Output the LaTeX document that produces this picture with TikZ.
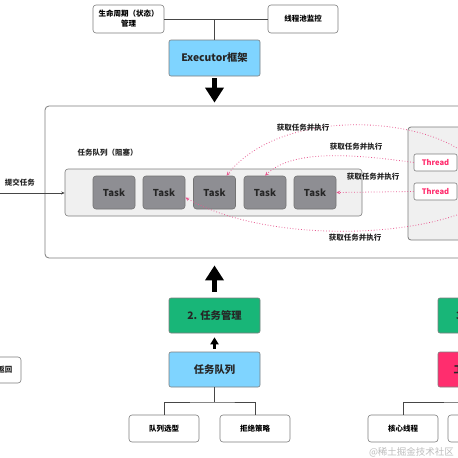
\documentclass[tikz,border=0pt]{standalone}
\usepackage{fontspec}
\setmainfont{Noto Sans CJK SC}
\usetikzlibrary{arrows.meta}
\definecolor{bord}{RGB}{125,125,125}
\definecolor{lineg}{RGB}{70,70,70}
\definecolor{lblue}{RGB}{127,212,255}
\definecolor{mgreen}{RGB}{24,182,120}
\definecolor{mpink}{RGB}{255,45,110}
\definecolor{taskg}{RGB}{142,142,147}
\definecolor{qgray}{RGB}{240,240,240}
\definecolor{pinkline}{RGB}{232,90,145}
\definecolor{wmark}{RGB}{190,190,190}
\begin{document}
\begin{tikzpicture}[x=1pt,y=-1pt,
  wbox/.style={draw=bord, line width=0.6pt, fill=white, rounded corners=3pt, inner sep=0pt,
    font=\bfseries\fontsize{7.5}{10}\selectfont, align=center},
  cbox/.style={draw=bord, line width=0.6pt, rounded corners=2pt, inner sep=0pt,
    minimum width=91pt, minimum height=35pt, font=\bfseries\fontsize{10.3}{12}\selectfont, text=black!85},
  taskbox/.style={draw=black!55, line width=0.6pt, fill=taskg, rounded corners=3pt, inner sep=0pt,
    minimum width=42pt, minimum height=33pt, font=\bfseries\fontsize{9.5}{11}\selectfont, text=black!85},
  thbox/.style={draw=bord, line width=0.6pt, fill=white, rounded corners=2pt, inner sep=0pt,
    minimum width=43pt, minimum height=17pt, font=\bfseries\fontsize{7.6}{9}\selectfont, text=mpink},
  lbl/.style={font=\bfseries\fontsize{7.5}{9}\selectfont, text=black!85, inner sep=0pt},
  conn/.style={draw=lineg, line width=0.8pt},
  fetch/.style={draw=pinkline, line width=0.8pt, dotted, -{Stealth[length=4pt,width=3.5pt]}},
  blockarrow/.style={line width=5.5pt, -{Triangle[width=18pt,length=15pt]}},
]
\useasboundingbox (0,0) rectangle (458,458);
\clip (0,0) rectangle (458,458);
\fill[white] (0,0) rectangle (458,458);

% top
\node[wbox, minimum width=71pt, minimum height=28pt] (life) at (128.5,19) {生命周期（状态）\\管理};
\node[wbox, minimum width=70pt, minimum height=28pt] (mon) at (303,19) {线程池监控};
\node[cbox, fill=lblue, minimum height=36pt] (exec) at (214.5,58) {Executor框架};
\draw[conn] (life.east) -- (mon.west);
\draw[conn] (exec.north) -- (exec.north |- life.east);

% big box
\node[draw=bord, line width=0.8pt, fill=white, rounded corners=4pt, minimum width=475pt, minimum height=152pt, inner sep=0pt] (big) at (282.5,182) {};
\draw[blockarrow, shorten <=2pt, shorten >=3pt] (exec.south) -- (exec.south |- big.north);

\node[lbl] (qlabel) at (107.5,153) {任务队列（阻塞）};
\node[draw=bord, line width=0.6pt, fill=qgray, rounded corners=3pt, minimum width=297pt, minimum height=47pt, inner sep=0pt] (queue) at (213.5,192.5) {};
\node[taskbox] (task1) at (114,192.5) {Task};
\node[taskbox] (task2) at (164,192.5) {Task};
\node[taskbox] (task3) at (214.5,192.5) {Task};
\node[taskbox] (task4) at (265,192.5) {Task};
\node[taskbox] (task5) at (315,192.5) {Task};

\node[lbl] (submit) at (20,183) {提交任务};
\coordinate (subin) at (-2,193);
\draw[draw=lineg, line width=0.7pt, -{Stealth[length=3.5pt,width=3pt]}] (subin) -- (queue.west |- subin);

% thread pool
\node[draw=bord, line width=0.8pt, fill=qgray, rounded corners=3pt, minimum width=102pt, minimum height=113pt, inner sep=0pt] (pool) at (459,183.5) {};
\node[thbox] (th1) at (435.5,162.5) {Thread};
\node[thbox] (th2) at (435.5,191.5) {Thread};
\coordinate (src1) at (468,156);
\coordinate (src4) at (470,210);

\draw[fetch] (src1) .. controls (420,115) and (280,108) .. ([xshift=12pt]task3.north);
\draw[fetch] (th1.west) .. controls (340,152) and (290,152) .. (task4.north);
\draw[fetch] (th2.west) -- (task5.east);
\draw[fetch] (src4) .. controls (400,240) and (260,240) .. ([yshift=-5pt]task2.east);
\node[lbl] (f1) at (303,128) {获取任务并执行};
\node[lbl] (f2) at (356,147) {获取任务并执行};
\node[lbl] (f3) at (373,177) {获取任务并执行};
\node[lbl] (f4) at (355,238) {获取任务并执行};

% bottom middle
\node[cbox, fill=mgreen] (tm) at (214.5,315.5) {2. 任务管理};
\node[cbox, fill=lblue] (tq) at (214.5,369.5) {任务队列};
\draw[blockarrow, shorten <=6pt, shorten >=7pt] (tm.north) -- (tm.north |- big.south);
\draw[line width=3pt, -{Triangle[width=8pt,length=7pt]}, shorten <=3pt, shorten >=4pt] (tq.north) -- (tm.south);
\node[wbox, minimum width=70pt, minimum height=27pt] (qsel) at (164,428.5) {队列选型};
\node[wbox, minimum width=70pt, minimum height=27pt] (rej) at (255,428.5) {拒绝策略};
\coordinate (bj) at (214.5,402);
\draw[conn] (tq.south) -- (bj);
\draw[conn] (qsel.north) |- (bj) -| (rej.north);

% bottom right
\node[cbox, fill=mgreen] (gm) at (483.5,315.5) {};
\node[font=\bfseries\fontsize{10.3}{12}\selectfont, text=black!85, inner sep=0pt, anchor=west] (gmtxt) at (456,315.5) {3. 线程管理};
\node[cbox, fill=mpink] (wt) at (483.5,369.5) {};
\node[font=\bfseries\fontsize{10.3}{12}\selectfont, text=black!85, inner sep=0pt, anchor=west] (wttxt) at (453.5,369.5) {工作线程池};
\node[wbox, minimum width=70pt, minimum height=27pt] (core) at (403,428.5) {核心线程};
\node[wbox, minimum width=70pt, minimum height=27pt] (other) at (483,428.5) {};
\coordinate (bj2) at (483.5,402);
\draw[conn] (wt.south) -- (bj2);
\draw[conn] (core.north) |- (bj2) -| (other.north);

% left partial
\node[wbox, minimum width=71pt, minimum height=26pt] (leftb) at (-14.5,370) {};
\node[lbl, anchor=east] (lefttxt) at (12.5,370) {结果返回};

\node[font=\fontsize{9.5}{11}\selectfont, text=wmark, inner sep=0pt] (wm) at (411.5,452) {@稀土掘金技术社区};
\end{tikzpicture}
\end{document}
